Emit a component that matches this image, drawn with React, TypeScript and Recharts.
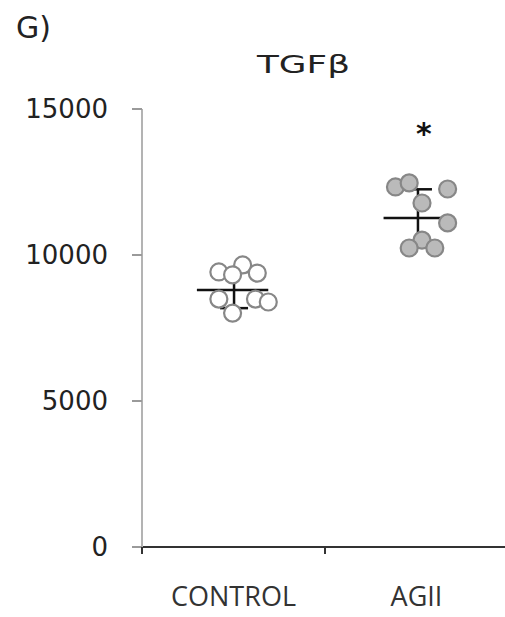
import React from "react";
import {
  ScatterChart,
  Scatter,
  XAxis,
  YAxis,
  ErrorBar,
  ReferenceLine,
  ReferenceDot,
} from "recharts";

const groups = ["CONTROL", "AGII"];
const groupCenters = [0.5, 1.5];
const yTicks = [0, 5000, 10000, 15000];

const controlValues = [9420, 9660, 9380, 9320, 8490, 8490, 8390, 8010];
const controlJitter = [-0.08, 0.05, 0.13, -0.005, -0.08, 0.12, 0.19, -0.005];
const agiiValues = [12330, 12470, 12260, 11780, 11100, 10510, 10240, 10240];
const agiiJitter = [-0.115, -0.04, 0.17, 0.03, 0.17, 0.03, -0.04, 0.1];

const means = [8800, 11270];
const sds = [620, 980];
const barOffsets = [0.003, 0.008];
const meanSpan = [
  [-0.2, 0.19],
  [-0.18, 0.19],
];
const sigMark = { x: 1.54, y: 14150, text: "*" };

const controlData = controlValues.map((v, i) => ({ x: groupCenters[0] + controlJitter[i], y: v }));
const agiiData = agiiValues.map((v, i) => ({ x: groupCenters[1] + agiiJitter[i], y: v }));
const summaryData = means.map((m, i) => ({ x: groupCenters[i] + barOffsets[i], y: m, sd: sds[i] }));

const OpenDot = (p: any) => (
  <circle cx={p.cx} cy={p.cy} r={8.5} fill="#ffffff" stroke="#878787" strokeWidth={2.2} />
);
const FilledDot = (p: any) => (
  <circle cx={p.cx} cy={p.cy} r={8.5} fill="#bababa" stroke="#878787" strokeWidth={2.2} />
);

const XTick = (p: any) => {
  const v = p.payload.value;
  const idx = groupCenters.indexOf(v);
  if (idx >= 0) {
    return (
      <text x={p.x} y={p.y + 59} textAnchor="middle" fontFamily="Open Sans" fontSize={27} fill="#333">
        {groups[idx]}
      </text>
    );
  }
  return <line x1={p.x} y1={p.y} x2={p.x} y2={p.y + 7} stroke="#333" strokeWidth={2} />;
};

export default function App() {
  return (
    <div style={{ position: "absolute", left: 0, top: 0, width: 505, height: 617, overflow: "hidden", background: "#fff" }}>
      <svg width={505} height={120} style={{ position: "absolute", left: 0, top: 0 }}>
        <text x={16} y={38} fontFamily="DejaVu Sans" fontSize={30} fill="#222">
          G)
        </text>
        <text x={257} y={73} fontFamily="DejaVu Sans" fontSize={25} fill="#222" textLength={93} lengthAdjust="spacingAndGlyphs">
          TGFβ
        </text>
      </svg>
      <ScatterChart width={512} height={617} margin={{ top: 109, right: 4, bottom: 0, left: 0 }}>
        <XAxis
          type="number"
          dataKey="x"
          domain={[0, 2]}
          ticks={[0, 0.5, 1, 1.5]}
          tick={<XTick />}
          tickLine={false}
          tickSize={0}
          tickMargin={0}
          axisLine={{ stroke: "#333", strokeWidth: 2 }}
          height={70}
          interval={0}
        />
        <YAxis
          type="number"
          dataKey="y"
          domain={[0, 15000]}
          ticks={yTicks}
          width={142}
          tickSize={10}
          tickMargin={24}
          axisLine={{ stroke: "#b3b3b3", strokeWidth: 2 }}
          tickLine={{ stroke: "#9a9a9a", strokeWidth: 2 }}
          tick={{ fontFamily: "DejaVu Sans", fontSize: 26, fill: "#222" }}
        />
        <Scatter data={controlData} shape={<OpenDot />} isAnimationActive={false} />
        <Scatter data={agiiData} shape={<FilledDot />} isAnimationActive={false} />
        <Scatter data={summaryData} shape={() => <g />} isAnimationActive={false}>
          <ErrorBar dataKey="sd" direction="y" width={14} stroke="#111" strokeWidth={2.5} />
        </Scatter>
        {means.map((m, i) => (
          <ReferenceLine
            key={i}
            segment={[
              { x: groupCenters[i] + meanSpan[i][0], y: m },
              { x: groupCenters[i] + meanSpan[i][1], y: m },
            ]}
            stroke="#111"
            strokeWidth={2.5}
          />
        ))}
        <ReferenceDot
          x={sigMark.x}
          y={sigMark.y}
          r={0}
          fill="none"
          stroke="none"
          label={{ value: sigMark.text, position: "center", fontFamily: "DejaVu Sans", fontWeight: "bold", fontSize: 30, fill: "#111" }}
        />
      </ScatterChart>
    </div>
  );
}
